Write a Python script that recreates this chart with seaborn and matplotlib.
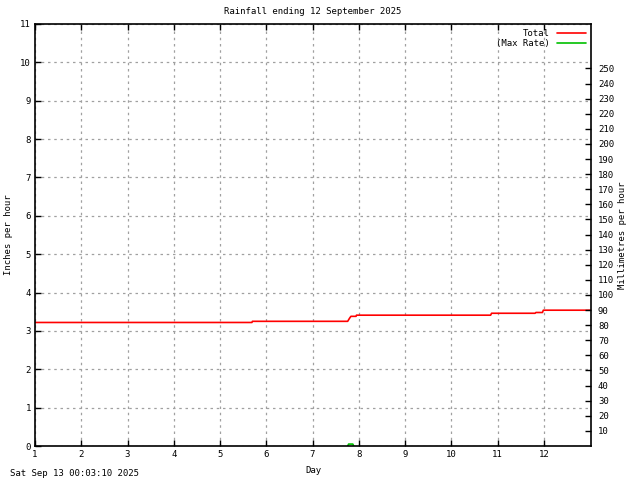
import numpy as np
import pandas as pd
import matplotlib
matplotlib.use("Agg")
import matplotlib.pyplot as plt
import seaborn as sns

# Data
total_day = [1.0, 5.69, 5.70, 7.76, 7.80, 7.83, 7.94, 7.95, 10.85, 10.87,
             11.81, 11.83, 11.97, 11.99, 13.02]
total_in = [3.22, 3.22, 3.25, 3.25, 3.33, 3.38, 3.38, 3.41, 3.41, 3.46,
            3.46, 3.48, 3.48, 3.54, 3.54]
rate_day = [7.76, 7.78, 7.87, 7.89]
rate_in = [0.0, 0.05, 0.05, 0.0]

x_ticks = list(range(1, 13))
y_ticks = list(range(0, 12))
mm_ticks = list(range(10, 260, 10))

title = "Rainfall ending 12 September 2025"
footer = "Sat Sep 13 00:03:10 2025"

sns.set_style("ticks")
plt.rcParams['font.family'] = ['DejaVu Sans Mono']
for k in ['text.color', 'axes.labelcolor', 'xtick.color', 'ytick.color']:
    plt.rcParams[k] = 'black'
fs = 6.5

total_df = pd.DataFrame({'Day': total_day, 'Inches': total_in})
rate_df = pd.DataFrame({'Day': rate_day, 'Inches': rate_in})

fig = plt.figure(figsize=(6.4, 4.8), dpi=100)
ax = fig.add_axes([35/640, 34/480, 556/640, 422/480])

sns.lineplot(data=total_df, x='Day', y='Inches', ax=ax, color='#ff0000',
             lw=1.2, label='Total', estimator=None, sort=False)
sns.lineplot(data=rate_df, x='Day', y='Inches', ax=ax, color='#00c000',
             lw=1.2, label='(Max Rate)', estimator=None, sort=False)

ax.set_xlim(1, 13.02)
ax.set_ylim(0, 11)
ax.set_xticks(x_ticks)
ax.set_yticks(y_ticks)
ax.grid(True, color='#a0a0a0', linestyle=(0, (2, 3)), lw=0.9)
ax.tick_params(direction='in', length=4, width=1, labelsize=fs,
               top=True, right=True, pad=3)
for s in ax.spines.values():
    s.set_linewidth(1.2)
    s.set_color('black')
    s.set_zorder(5)

ax.set_xlabel('Day', fontsize=fs)
ax.xaxis.set_label_coords((313 - 35) / 556, -20 / 422)
ax.set_ylabel('Inches per hour', fontsize=fs)
ax.yaxis.set_label_coords(-22 / 556, 0.5)
ax.set_title(title, fontsize=fs, pad=7)

ax2 = ax.twinx()
ax2.set_ylim(0, 11 * 25.4)
ax2.set_yticks(mm_ticks)
ax2.tick_params(direction='in', length=4, width=1, labelsize=fs, pad=5)
ax2.set_ylabel('Millimetres per hour', fontsize=fs)
ax2.yaxis.set_label_coords(1 + 27 / 556, 0.5)
for s in ax2.spines.values():
    s.set_visible(False)

leg = ax.legend(loc='upper right', fontsize=fs, frameon=False,
                markerfirst=False, handlelength=3.2, borderaxespad=0.2,
                labelspacing=0.1, handletextpad=0.8)
for t in leg.get_texts():
    t.set_ha('right')
leg._legend_box.align = 'right'

fig.text(10/640, 1 - 474/480, footer, fontsize=fs, va='center', ha='left')

fig.savefig('out.png', dpi=100)
